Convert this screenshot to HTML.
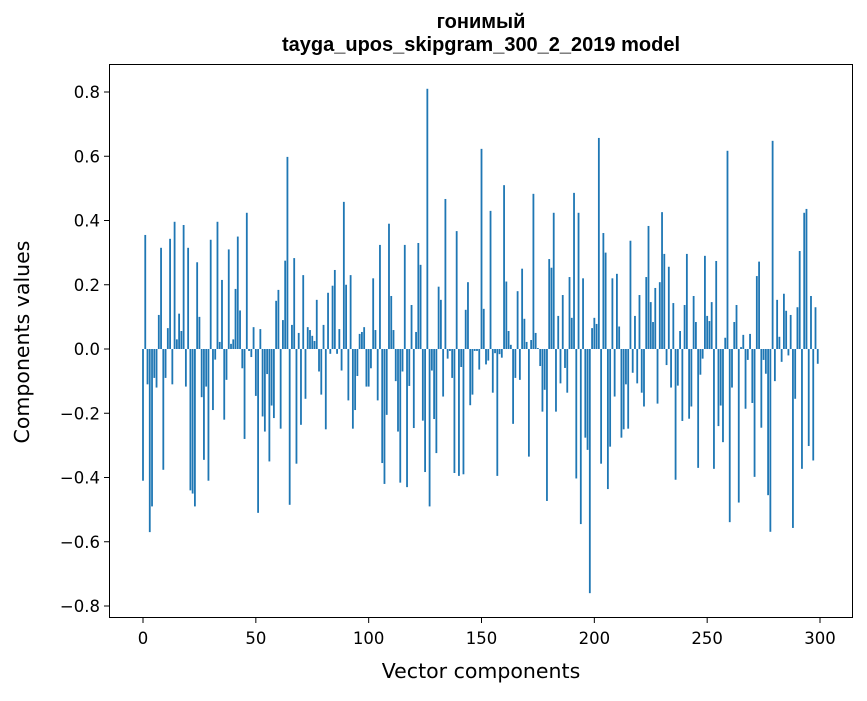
<!DOCTYPE html>
<html><head><meta charset="utf-8"><style>
body{margin:0;background:#fff;}
svg text{font-family:"DejaVu Sans","Liberation Sans",sans-serif;}
svg text.lib{font-family:"Liberation Sans","DejaVu Sans",sans-serif;}
</style></head><body>
<svg id="chart" width="867" height="696" xmlns="http://www.w3.org/2000/svg">
<rect width="867" height="696" fill="#fff"/>
<text class="lib" x="481" y="28" text-anchor="middle" font-size="20" font-weight="bold">гонимый</text>
<text class="lib" x="481" y="51" text-anchor="middle" font-size="20" font-weight="bold">tayga_upos_skipgram_300_2_2019 model</text>
<g id="bars"></g>
<g id="axes"></g>
<rect x="109.5" y="64.5" width="743" height="553" fill="none" stroke="#000" stroke-width="1"/>
<text x="481" y="678" text-anchor="middle" font-size="20.5">Vector components</text>
<text transform="translate(29,342) rotate(-90)" text-anchor="middle" font-size="20.5">Components values</text>
</svg>
<script>
const values = [
-0.41,0.355,-0.11,-0.57,-0.49,-0.09,-0.12,0.106,0.315,-0.376,
-0.09,0.065,0.343,-0.11,0.396,0.03,0.11,0.056,0.386,-0.117,
0.315,-0.44,-0.45,-0.49,0.27,0.1,-0.15,-0.345,-0.117,-0.41,
0.34,-0.19,-0.033,0.396,0.022,0.215,-0.22,-0.096,0.31,0.016,
0.03,0.187,0.35,0.12,-0.06,-0.28,0.424,-0.006,-0.025,0.068,
-0.146,-0.51,0.062,-0.21,-0.257,-0.078,-0.35,-0.176,-0.215,0.15,
0.184,-0.248,0.09,0.275,0.598,-0.485,0.075,0.283,-0.357,0.05,
-0.236,0.23,-0.155,0.068,0.059,0.041,0.025,0.153,-0.07,-0.142,
0.075,-0.25,0.175,-0.015,0.197,0.246,-0.015,0.062,-0.067,0.458,
0.2,-0.16,0.23,-0.248,-0.19,-0.084,0.047,0.053,0.068,-0.117,
-0.117,-0.06,0.22,0.059,-0.16,0.324,-0.355,-0.42,-0.205,0.39,
0.165,0.059,-0.1,-0.257,-0.416,-0.07,0.324,-0.43,-0.115,0.137,
-0.246,0.053,0.33,0.262,-0.223,-0.383,0.81,-0.49,-0.067,-0.218,
-0.324,0.194,0.153,-0.148,0.467,-0.03,-0.006,-0.09,-0.386,0.367,
-0.395,-0.056,-0.39,0.122,0.208,-0.175,-0.142,-0.006,-0.006,-0.064,
0.623,0.125,-0.048,-0.036,0.43,-0.136,-0.013,-0.395,-0.016,-0.027,
0.51,0.21,0.056,0.013,-0.233,-0.09,0.18,-0.096,0.25,0.094,
0.022,-0.335,0.028,0.483,0.05,0.003,-0.053,-0.195,-0.127,-0.473,
0.28,0.253,0.424,-0.195,0.103,-0.107,0.168,-0.059,-0.136,0.224,
0.097,0.486,-0.403,0.424,-0.545,0.22,-0.276,-0.314,-0.76,0.065,
0.097,0.078,0.657,-0.357,0.361,0.3,-0.436,-0.304,0.22,-0.148,
0.234,0.07,-0.276,-0.25,-0.11,-0.248,0.337,-0.074,0.103,-0.107,
0.168,-0.136,-0.179,0.224,0.383,0.146,0.084,0.19,-0.17,0.208,
0.426,0.296,-0.05,0.256,-0.12,0.143,-0.407,-0.114,0.056,-0.224,
0.137,0.296,-0.217,-0.179,0.165,0.084,-0.37,-0.08,-0.03,0.29,
0.103,0.087,0.146,-0.373,0.274,-0.24,-0.176,-0.29,0.035,0.617,
-0.539,-0.12,0.084,0.137,-0.478,0.006,0.044,-0.186,-0.034,0.047,
-0.168,-0.398,0.227,0.272,-0.245,-0.034,-0.077,-0.455,-0.569,0.648,
-0.1,0.153,0.038,-0.04,0.172,0.119,-0.02,0.106,-0.557,-0.155,
0.13,0.305,-0.373,0.424,0.436,-0.302,0.165,-0.347,0.13,-0.046
];
const xTicks = [0,50,100,150,200,250,300];
const yTicks = [-0.8,-0.6,-0.4,-0.2,0.0,0.2,0.4,0.6,0.8];
const yTickLabels = ["\u22120.8","\u22120.6","\u22120.4","\u22120.2","0.0","0.2","0.4","0.6","0.8"];

const NS="http://www.w3.org/2000/svg";
function xs(i){return 143 + i*2.2567;}
function ys(v){return 349 - v*321.25;}
const bars=document.getElementById('bars');
values.forEach((v,i)=>{
  const r=document.createElementNS(NS,'rect');
  const w=0.8*2.2567;
  const y0=ys(0), y1=ys(v);
  r.setAttribute('x',xs(i)-w/2);
  r.setAttribute('y',Math.min(y0,y1));
  r.setAttribute('width',w);
  r.setAttribute('height',Math.max(Math.abs(y1-y0),0.3));
  r.setAttribute('fill','#1f77b4');
  
  
  bars.appendChild(r);
});
const axes=document.getElementById('axes');
xTicks.forEach(t=>{
  const x=xs(t);
  const l=document.createElementNS(NS,'line');
  l.setAttribute('x1',x);l.setAttribute('x2',x);l.setAttribute('y1',618);l.setAttribute('y2',623);
  l.setAttribute('stroke','#000');
  
  
  axes.appendChild(l);
  const tx=document.createElementNS(NS,'text');
  tx.setAttribute('x',x);tx.setAttribute('y',644);tx.setAttribute('text-anchor','middle');tx.setAttribute('font-size','16.5');
  tx.textContent=String(t);
  
  
  axes.appendChild(tx);
});
yTicks.forEach((t,k)=>{
  const y=ys(t);
  const l=document.createElementNS(NS,'line');
  l.setAttribute('x1',104);l.setAttribute('x2',109);l.setAttribute('y1',y);l.setAttribute('y2',y);
  l.setAttribute('stroke','#000');
  
  
  axes.appendChild(l);
  const tx=document.createElementNS(NS,'text');
  tx.setAttribute('x',100);tx.setAttribute('y',y+6);tx.setAttribute('text-anchor','end');tx.setAttribute('font-size','16.5');
  tx.textContent=yTickLabels[k];
  
  
  axes.appendChild(tx);
});
</script>
</body></html>
